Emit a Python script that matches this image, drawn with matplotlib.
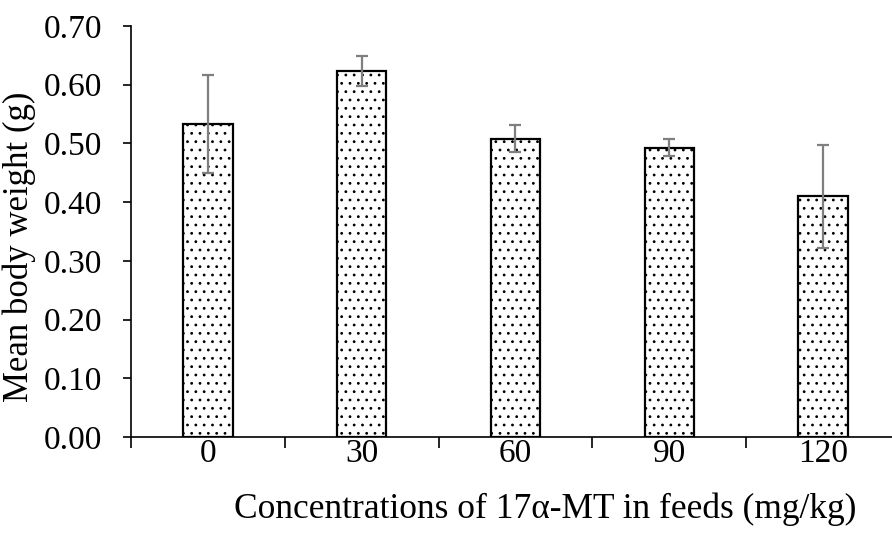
import numpy as np
import matplotlib.pyplot as plt
import matplotlib as mpl

mpl.rcParams['font.family'] = ['Liberation Serif', 'DejaVu Serif']
mpl.rcParams['hatch.linewidth'] = 0.8

doses = ['0', '30', '60', '90', '120']
weight = [0.533, 0.623, 0.508, 0.493, 0.410]
err = [0.084, 0.026, 0.023, 0.015, 0.088]

fig = plt.figure(figsize=(8.92, 5.35), dpi=100)
ax = fig.add_axes([0.1469, 0.1832, 0.862, 0.7682])

x = np.arange(len(doses))
ax.bar(x, weight, width=0.32, color='white', edgecolor='black',
       linewidth=1.6, hatch='..', zorder=2)
ax.errorbar(x, weight, yerr=err, fmt='none', ecolor='#7f7f7f',
            elinewidth=1.6, capsize=4.5, capthick=1.6, zorder=3)

ax.set_xlim(-0.5, len(doses) - 0.5)
ax.set_ylim(0, 0.7)
ax.set_yticks(np.arange(0, 0.71, 0.1))
ax.set_yticklabels(['%.2f' % v for v in np.arange(0, 0.71, 0.1)])
ax.set_xticks(x)
ax.set_xticklabels(doses)
ax.set_xticks(np.arange(-0.5, len(doses)), minor=True)

for s in ['top', 'right']:
    ax.spines[s].set_visible(False)
for s in ['left', 'bottom']:
    ax.spines[s].set_linewidth(1.2)

ax.tick_params(axis='y', direction='out', length=6, width=1.2, labelsize=24, pad=15)
ax.tick_params(axis='x', which='major', length=0, labelsize=24, pad=1)
ax.tick_params(axis='x', which='minor', direction='out', length=8, width=1.2)

ax.set_ylabel('Mean body weight (g)', fontsize=25)
ax.set_xlabel('Concentrations of 17α-MT in feeds (mg/kg)', fontsize=25.5)
# labels are centred a little off the plot area
ax.yaxis.set_label_coords(-0.124, 0.462)
ax.xaxis.set_label_coords(0.539, -0.135)

fig.savefig('out.png', dpi=100)
